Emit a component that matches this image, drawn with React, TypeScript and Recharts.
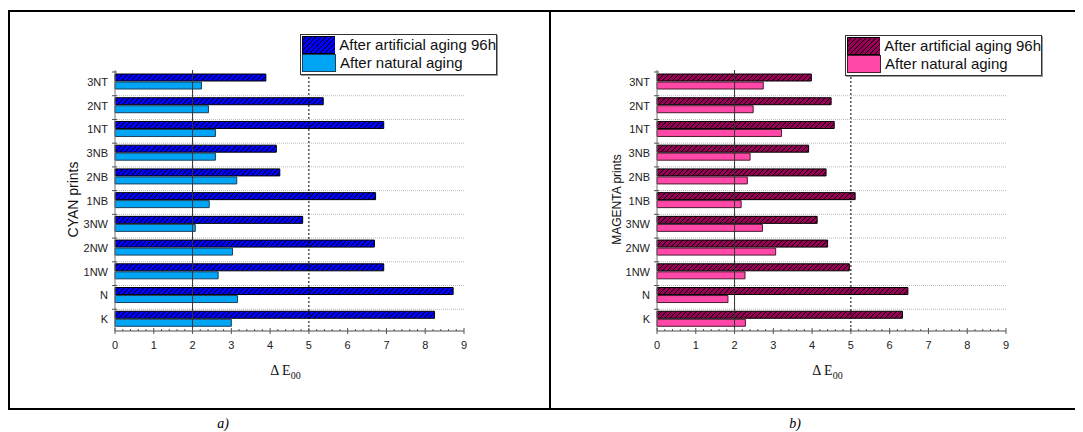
import React from 'react';
import { BarChart, Bar, XAxis, YAxis, CartesianGrid, ReferenceLine, Legend, Label } from 'recharts';

// categories listed top to bottom as they appear on the chart
const categories = ['3NT', '2NT', '1NT', '3NB', '2NB', '1NB', '3NW', '2NW', '1NW', 'N', 'K'];

const cyanArtificial = [3.89, 5.37, 6.93, 4.16, 4.25, 6.72, 4.84, 6.69, 6.93, 8.72, 8.24];
const cyanNatural = [2.23, 2.41, 2.59, 2.59, 3.14, 2.43, 2.07, 3.03, 2.66, 3.16, 3.0];

const magentaArtificial = [3.98, 4.49, 4.57, 3.91, 4.36, 5.11, 4.13, 4.4, 4.96, 6.47, 6.33];
const magentaNatural = [2.74, 2.48, 3.21, 2.4, 2.33, 2.17, 2.72, 3.06, 2.27, 1.83, 2.28];

const seriesNames = ['After artificial aging 96h', 'After natural aging'];
const xTicks = [0, 1, 2, 3, 4, 5, 6, 7, 8, 9];
const xAxisLabel = 'Δ E';
const xAxisSub = '00';

const sans = '"Liberation Sans", Arial, sans-serif';
const serif = '"Liberation Serif", "Times New Roman", serif';

// 5 minor divisions per unit
const allTicks = Array.from({ length: xTicks[xTicks.length - 1] * 5 + 1 }, (_, i) => i / 5);

const buildRows = (a: number[], n: number[]) =>
  categories.map((c, i) => ({ name: c, artificial: a[i], natural: n[i] }));

const XTick = (props: any) => {
  const { x, y, payload } = props;
  const v = payload.value;
  if (Number.isInteger(v)) {
    return (
      <g>
        <line x1={x} x2={x} y1={y - 3} y2={y + 3} stroke="#555" />
        <text x={x} y={y + 18} textAnchor="middle" fontSize={11} fontFamily={sans} fill="#222">
          {v}
        </text>
      </g>
    );
  }
  return <line x1={x} x2={x} y1={y - 2} y2={y} stroke="#555" />;
};

const YTick = (props: any) => {
  const { x, y, payload } = props;
  const half = payload.offset || 11.8;
  const yb = y - half + 2;
  return (
    <g>
      <line x1={x - 3} x2={x + 2} y1={yb} y2={yb} stroke="#555" />
      <text x={x - 7} y={y} dy={4} textAnchor="end" fontSize={11} fontFamily={sans} fill="#222">
        {payload.value}
      </text>
    </g>
  );
};

interface PanelProps {
  rows: { name: string; artificial: number; natural: number }[];
  width: number;
  yAxisWidth: number;
  marginRight: number;
  yLabel: string;
  yLabelSize: number;
  yLabelX: number;
  patternId: string;
  darkFill: string;
  lightFill: string;
  lightStroke: string;
  legendLeft: number;
  legendTop: number;
}

const LegendBox = ({ patternId, lightFill, lightStroke }: any) => (
  <div
    style={{
      width: 195,
      height: 38,
      border: '1px solid #333',
      boxShadow: '1px 1px 0 #999',
      background: '#fff',
      fontFamily: sans,
      fontSize: 15,
      color: '#111',
      whiteSpace: 'nowrap',
      paddingTop: 1,
      boxSizing: 'content-box',
    }}
  >
    {seriesNames.map((name, i) => (
      <div key={name} style={{ display: 'flex', alignItems: 'center', height: 18, marginLeft: 1 }}>
        <svg width={34} height={18} style={{ display: 'block' }}>
          <rect
            x={0.5}
            y={0.5}
            width={33}
            height={17}
            fill={i === 0 ? `url(#${patternId})` : lightFill}
            stroke={i === 0 ? '#000' : lightStroke}
          />
        </svg>
        <span style={{ marginLeft: 4, lineHeight: '18px' }}>{name}</span>
      </div>
    ))}
  </div>
);

const Panel = (p: PanelProps) => (
  <BarChart
    width={p.width}
    height={396}
    data={p.rows}
    layout="vertical"
    margin={{ top: 58, right: p.marginRight, bottom: 37, left: 0 }}
    barCategoryGap={4}
    barGap={1}
  >
    <defs>
      <pattern id={p.patternId} width={5} height={5} patternUnits="userSpaceOnUse">
        <rect width={5} height={5} fill={p.darkFill} />
        <path d="M-1,1 l2,-2 M0,5 l5,-5 M4,6 l2,-2" stroke="#000" strokeWidth={1} />
      </pattern>
    </defs>
    <CartesianGrid
      vertical={false}
      stroke="#bbb"
      strokeDasharray="1 1"
      horizontalCoordinatesGenerator={({ offset }: any) => {
        const band = offset.height / categories.length;
        return categories.slice(1).map((_, i) => offset.top + band * (i + 1) + 2);
      }}
    />
    <XAxis
      type="number"
      domain={[0, 9]}
      ticks={allTicks}
      interval={0}
      tick={<XTick />}
      tickLine={false}
      tickSize={0}
      tickMargin={0}
      height={40}
      stroke="#888"
      strokeWidth={1.5}
    >
      <Label
        content={(lp: any) => {
          const vb = lp.viewBox;
          return (
            <text x={vb.x + vb.width / 2 - 4} y={vb.y + 44} textAnchor="middle" fontFamily={serif} fontSize={14} fill="#111">
              {xAxisLabel}
              <tspan fontSize={10} dy={4}>
                {xAxisSub}
              </tspan>
            </text>
          );
        }}
      />
    </XAxis>
    <YAxis
      type="category"
      dataKey="name"
      width={p.yAxisWidth}
      interval={0}
      tick={<YTick />}
      tickLine={false}
      tickSize={0}
      tickMargin={0}
      stroke="#777"
    >
      <Label
        content={(lp: any) => {
          const vb = lp.viewBox;
          return (
            <text
              transform={`translate(${vb.x + p.yLabelX}, ${vb.y + vb.height / 2 - 1}) rotate(-90)`}
              textAnchor="middle"
              dy="0.35em"
              fontFamily={sans}
              fontSize={p.yLabelSize}
              fill="#111"
            >
              {p.yLabel}
            </text>
          );
        }}
      />
    </YAxis>
    <Legend
      layout="vertical"
      align="center"
      verticalAlign="middle"
      wrapperStyle={{ left: p.legendLeft, top: p.legendTop, width: 'auto' }}
      content={() => <LegendBox patternId={p.patternId} lightFill={p.lightFill} lightStroke={p.lightStroke} />}
    />
    <Bar
      dataKey="artificial"
      name={seriesNames[0]}
      fill={`url(#${p.patternId})`}
      stroke="#000"
      strokeWidth={1}
      isAnimationActive={false}
    />
    <Bar
      dataKey="natural"
      name={seriesNames[1]}
      fill={p.lightFill}
      stroke={p.lightStroke}
      strokeWidth={1}
      isAnimationActive={false}
    />
    <ReferenceLine x={2} stroke="#333" strokeWidth={1} />
    <ReferenceLine x={5} stroke="#000" strokeDasharray="2 2" strokeWidth={1} />
  </BarChart>
);

export default function App() {
  return (
    <div style={{ position: 'relative', width: 1075, height: 424, overflow: 'hidden' }}>
      <div
        style={{
          position: 'absolute',
          left: 0,
          top: 2,
          width: 1090,
          height: 400,
          boxSizing: 'border-box',
          border: '2px solid #000',
        }}
      />
      <div style={{ position: 'absolute', left: 541, top: 2, width: 2, height: 400, background: '#000' }} />
      <div style={{ position: 'absolute', left: 2, top: 4 }}>
        <Panel
          rows={buildRows(cyanArtificial, cyanNatural)}
          width={539}
          yAxisWidth={105}
          marginRight={85}
          yLabel="CYAN prints"
          yLabelSize={14}
          yLabelX={63}
          patternId="hatch-cyan"
          darkFill="#0000FF"
          lightFill="#00A6F5"
          lightStroke="#1a3f5c"
          legendLeft={290}
          legendTop={22}
        />
      </div>
      <div style={{ position: 'absolute', left: 543, top: 4 }}>
        <Panel
          rows={buildRows(magentaArtificial, magentaNatural)}
          width={532}
          yAxisWidth={106}
          marginRight={77}
          yLabel="MAGENTA prints"
          yLabelSize={12}
          yLabelX={66}
          patternId="hatch-magenta"
          darkFill="#990055"
          lightFill="#FF48A8"
          lightStroke="#4a1a30"
          legendLeft={294}
          legendTop={23}
        />
      </div>
      <div
        style={{
          position: 'absolute',
          left: 195,
          top: 409,
          width: 40,
          textAlign: 'center',
          fontFamily: serif,
          fontStyle: 'italic',
          fontSize: 14,
          lineHeight: '14px',
        }}
      >
        a)
      </div>
      <div
        style={{
          position: 'absolute',
          left: 767,
          top: 409,
          width: 40,
          textAlign: 'center',
          fontFamily: serif,
          fontStyle: 'italic',
          fontSize: 14,
          lineHeight: '14px',
        }}
      >
        b)
      </div>
    </div>
  );
}
